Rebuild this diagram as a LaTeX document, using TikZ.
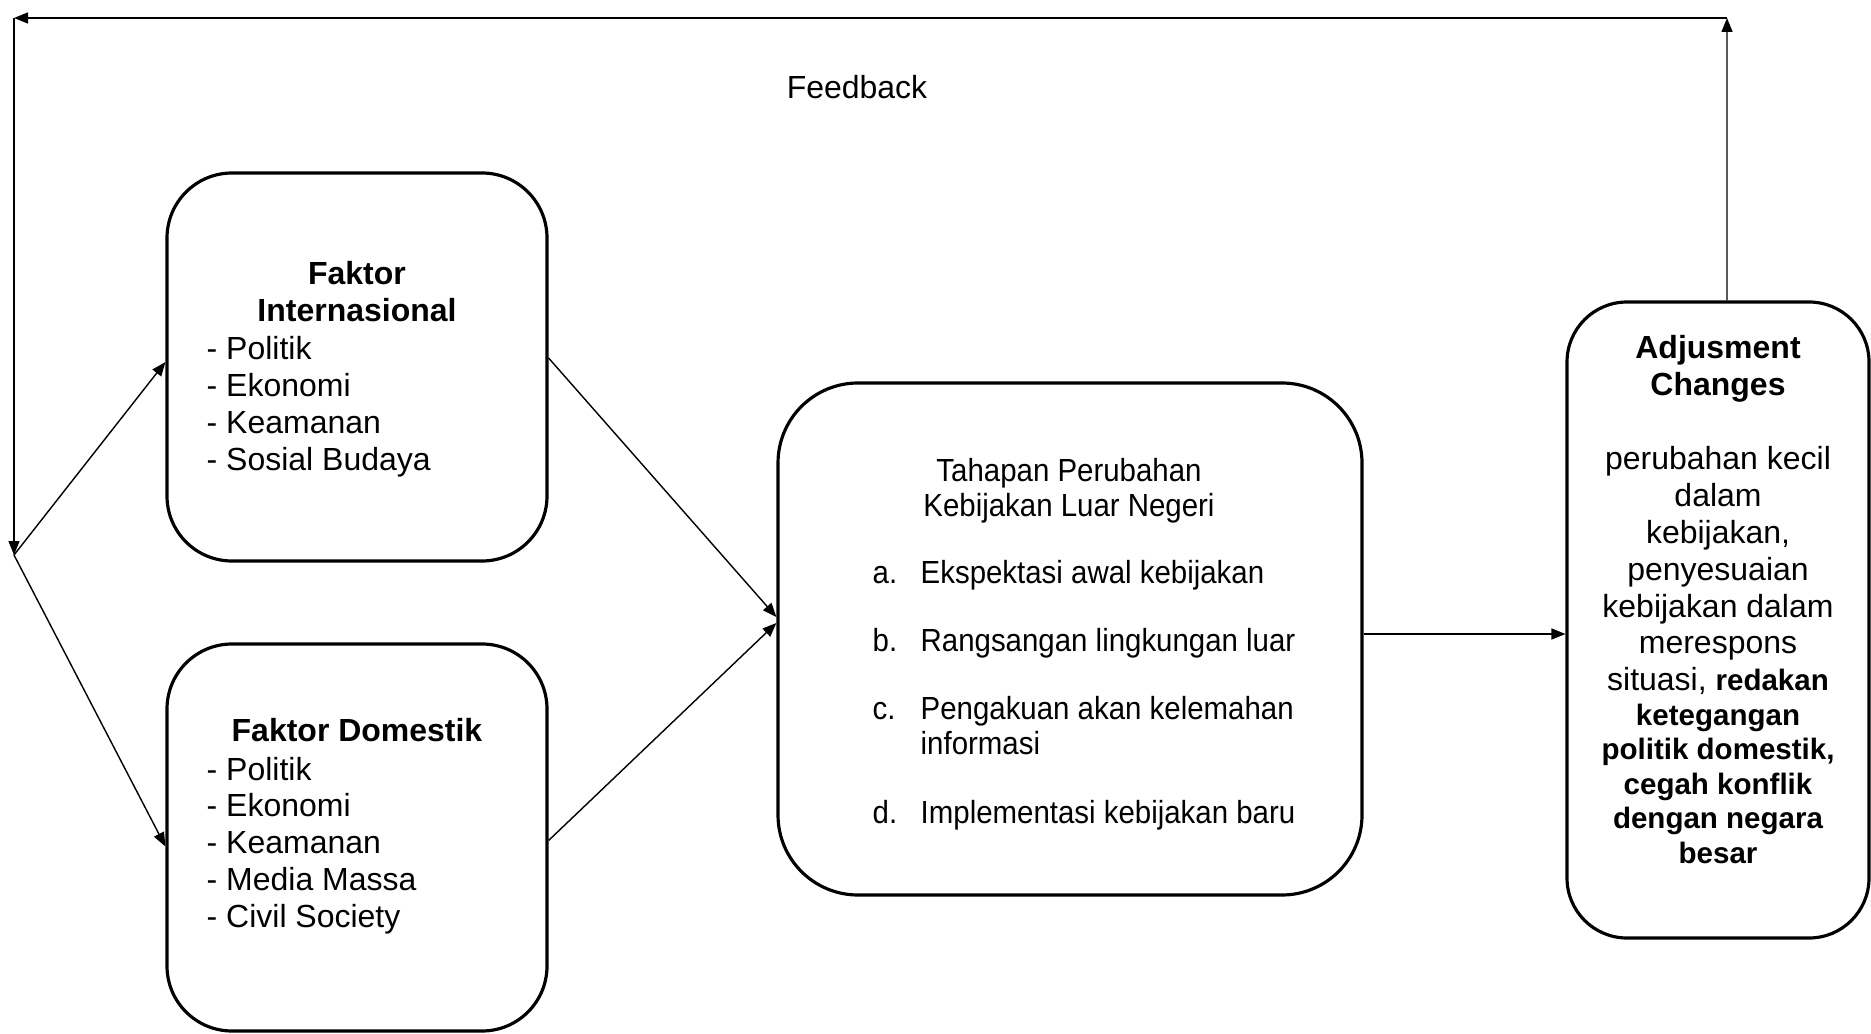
\documentclass[tikz,border=0pt]{standalone}
\usepackage{fontspec}
\setmainfont{Liberation Sans}
\newfontfamily\narrowfont[FakeStretch=0.92]{Liberation Sans}
\usepackage{tikz}
\usetikzlibrary{arrows.meta, positioning, calc}
\newcommand{\stagelabel}[1]{\makebox[4.8mm][l]{#1}}
\newcommand{\boldsmall}[1]{{\fontsize{8.4}{10.5}\selectfont\bfseries #1}}
\tikzset{
    roundbox/.style={draw, rectangle, line width=0.9pt, inner sep=0pt},
    factorbox/.style={roundbox, rounded corners=6.5mm, minimum width=3.8cm, minimum height=3.88cm},
    stagebox/.style={roundbox, rounded corners=8mm, minimum width=5.84cm, minimum height=5.12cm},
    resultbox/.style={roundbox, rounded corners=6mm, minimum width=3.02cm, minimum height=6.36cm},
    bodytext/.style={inner sep=0pt, font=\fontsize{9.1}{10.5}\selectfont},
    titletext/.style={bodytext, align=center, font=\fontsize{9.1}{10.5}\selectfont\bfseries},
    listtext/.style={bodytext, align=left, anchor=west},
    stagetext/.style={inner sep=0pt, font=\fontsize{9.1}{10}\selectfont\narrowfont},
    flowarrow/.style={-{Triangle[length=1.4mm, width=1.1mm]}, line width=0.4pt},
}

\begin{document}
\begin{tikzpicture}
    \useasboundingbox (0,0) rectangle (18.71,10.33);

    % Faktor Internasional
    \node[factorbox] (intl) at (3.57, 6.66) {};
    \node[titletext] (intltitle) at (3.57, 7.41) {Faktor\\Internasional};
    \node[listtext] (intllist) at (2.06, 6.264) {- Politik\\- Ekonomi\\- Keamanan\\- Sosial Budaya};

    % Faktor Domestik
    \node[factorbox, minimum height=3.87cm] (dom) at (3.57, 1.955) {};
    \node[titletext] (domtitle) at (3.57, 3.03) {Faktor Domestik};
    \node[listtext] (domlist) at (2.06, 1.874) {- Politik\\- Ekonomi\\- Keamanan\\- Media Massa\\- Civil Society};

    % Tahapan perubahan
    \node[stagebox] (stage) at (10.70, 3.94) {};
    \node[stagetext, align=center] (stagetitle) at (10.69, 5.42) {Tahapan Perubahan\\Kebijakan Luar Negeri};
    \node[stagetext, align=left, anchor=west] (stagelist) at (8.72, 3.38)
        {\stagelabel{a.}Ekspektasi awal kebijakan\\[9.4pt]
         \stagelabel{b.}Rangsangan lingkungan luar\\[9.4pt]
         \stagelabel{c.}Pengakuan akan kelemahan\\
         \hspace*{4.8mm}informasi\\[9.4pt]
         \stagelabel{d.}Implementasi kebijakan baru};

    % Adjusment changes
    \node[resultbox] (adj) at (17.18, 4.13) {};
    \node[bodytext, align=center] (adjtext) at (17.18, 4.335)
        {\textbf{Adjusment}\\\textbf{Changes}\\[10.5pt]
         perubahan kecil\\dalam\\kebijakan,\\penyesuaian\\kebijakan dalam\\merespons\\
         situasi, \boldsmall{redakan}\\[-0.7pt]\boldsmall{ketegangan}\\[-0.7pt]\boldsmall{politik domestik,}\\[-0.7pt]
         \boldsmall{cegah konflik}\\[-0.7pt]\boldsmall{dengan negara}\\[-0.7pt]\boldsmall{besar}};

    % Feedback loop
    \coordinate (fbright) at (17.27, 10.15);
    \coordinate (fbleft) at (0.14, 10.15);
    \coordinate (split) at (0.14, 4.78);
    \node[bodytext] (feedback) at (8.57, 9.46) {Feedback};

    \draw[flowarrow] ([xshift=0.9mm]adj.north) -- (fbright);
    \draw[flowarrow] (fbright) -- (fbleft);
    \draw[flowarrow] (fbleft) -- (split);
    \draw[flowarrow] (split) -- ([yshift=0.5mm]intl.west);
    \draw[flowarrow] (split) -- ([yshift=-0.9mm]dom.west);

    % Menuju tahapan
    \draw[flowarrow] ([yshift=0.9mm]intl.east) -- ([yshift=2.2mm]stage.west);
    \draw[flowarrow] ([yshift=-0.3mm]dom.east) -- ([yshift=1.6mm]stage.west);
    \draw[flowarrow] ([yshift=0.5mm]stage.east) -- ([yshift=0.5mm]stage.east -| adj.west);
\end{tikzpicture}
\end{document}
